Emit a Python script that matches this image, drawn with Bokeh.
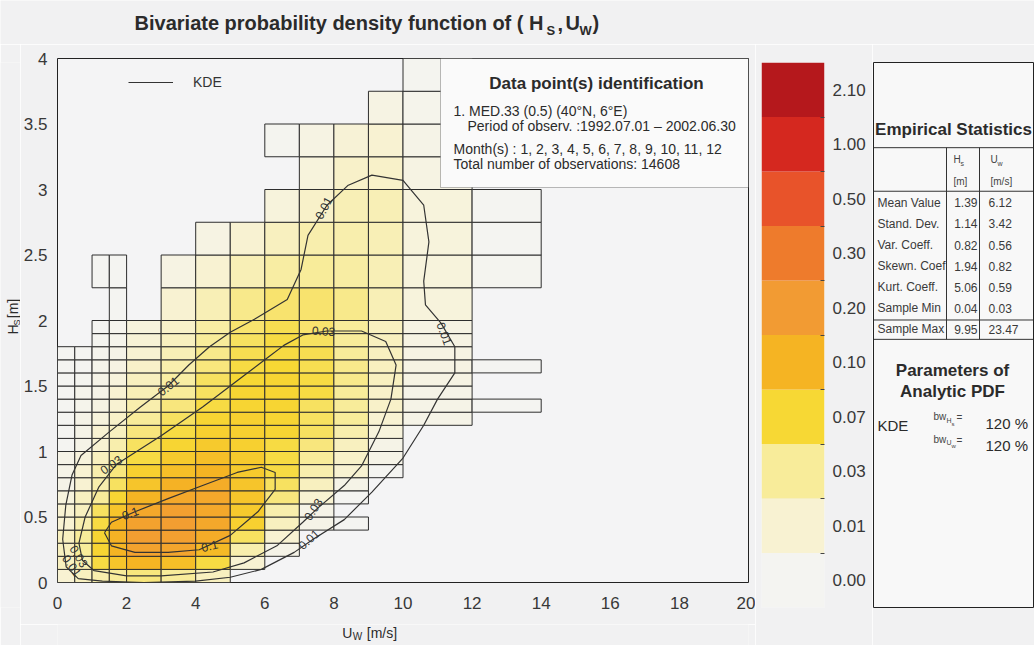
import numpy as np
from bokeh.plotting import figure
from bokeh.layouts import row, column
from bokeh.models import (Range1d, FixedTicker, Label, BoxAnnotation, Legend,
                          LegendItem, ColumnDataSource)
from bokeh.embed import file_html
from bokeh.resources import INLINE
from bokeh.core.properties import value

FONT = "Liberation Sans"
N = None

# ---------------- data ----------------
u_edges = [0, 0.5, 1, 1.5, 2, 3, 4, 5, 6, 7, 8, 9, 10, 12, 14]
h_edges = [0.0, 0.1, 0.2, 0.3, 0.4, 0.5, 0.6, 0.7, 0.8, 0.9, 1.0, 1.1, 1.2, 1.3,
           1.4, 1.5, 1.6, 1.7, 1.8, 1.9, 2.0, 2.25, 2.5, 2.75, 3.0, 3.25, 3.5,
           3.75, 4.0]
# empirical density per cell (row = H bin, column = U bin), None = empty bin
density = [
    [0.02, 0.03, 0.04, 0.05, 0.06, 0.05, 0.03, N, N, N, N, N, N, N],
    [0.03, 0.04, 0.08, 0.12, 0.15, 0.13, 0.08, 0.02, N, N, N, N, N, N],
    [0.03, 0.05, 0.09, 0.15, 0.22, 0.21, 0.14, 0.04, 0.01, N, N, N, N, N],
    [0.03, 0.05, 0.09, 0.16, 0.24, 0.23, 0.18, 0.07, 0.02, N, N, N, N, N],
    [0.02, 0.04, 0.08, 0.15, 0.22, 0.24, 0.20, 0.10, 0.03, 0.01, 0.005, N, N, N],
    [0.02, 0.03, 0.07, 0.12, 0.20, 0.23, 0.20, 0.11, 0.04, 0.01, N, N, N, N],
    [0.015, 0.03, 0.05, 0.09, 0.15, 0.20, 0.20, 0.12, 0.06, 0.02, 0.005, N, N, N],
    [0.01, 0.02, 0.04, 0.07, 0.12, 0.16, 0.18, 0.12, 0.07, 0.03, 0.01, N, N, N],
    [0.01, 0.02, 0.04, 0.06, 0.10, 0.13, 0.15, 0.11, 0.08, 0.04, 0.02, 0.005, N, N],
    [0.01, 0.015, 0.03, 0.05, 0.08, 0.11, 0.13, 0.11, 0.08, 0.05, 0.025, 0.01, N, N],
    [0.005, 0.01, 0.02, 0.04, 0.07, 0.09, 0.11, 0.10, 0.08, 0.06, 0.03, 0.01, N, N],
    [0.005, 0.01, 0.02, 0.03, 0.06, 0.08, 0.10, 0.10, 0.09, 0.07, 0.04, 0.015, N, N],
    [0.005, 0.01, 0.015, 0.025, 0.05, 0.07, 0.09, 0.10, 0.09, 0.07, 0.05, 0.02, 0.01, N],
    [0.005, 0.008, 0.012, 0.02, 0.04, 0.06, 0.08, 0.09, 0.09, 0.07, 0.05, 0.025, 0.01, 0.005],
    [0.005, 0.008, 0.01, 0.02, 0.035, 0.05, 0.07, 0.09, 0.09, 0.08, 0.05, 0.025, 0.01, N],
    [0.004, 0.006, 0.01, 0.015, 0.03, 0.045, 0.07, 0.085, 0.09, 0.08, 0.055, 0.03, 0.012, N],
    [0.004, 0.005, 0.008, 0.012, 0.025, 0.04, 0.06, 0.08, 0.085, 0.075, 0.055, 0.03, 0.012, 0.004],
    [0.003, 0.005, 0.007, 0.01, 0.02, 0.035, 0.055, 0.075, 0.08, 0.075, 0.05, 0.03, 0.012, N],
    [N, N, 0.006, 0.008, 0.018, 0.03, 0.05, 0.07, 0.08, 0.07, 0.05, 0.03, 0.012, N],
    [N, N, 0.005, 0.007, 0.015, 0.025, 0.045, 0.065, 0.075, 0.065, 0.05, 0.03, 0.012, N],
    [N, N, N, 0.005, N, 0.02, 0.035, 0.055, 0.065, 0.065, 0.055, 0.035, 0.015, N],
    [N, N, 0.004, 0.004, N, 0.012, 0.02, 0.035, 0.045, 0.05, 0.045, 0.035, 0.015, 0.006],
    [N, N, N, N, N, N, 0.012, 0.02, 0.03, 0.04, 0.04, 0.035, 0.015, 0.005],
    [N, N, N, N, N, N, N, N, 0.015, 0.025, 0.035, 0.035, 0.015, 0.005],
    [N, N, N, N, N, N, N, N, N, 0.015, 0.025, 0.025, 0.012, N],
    [N, N, N, N, N, N, N, N, 0.006, 0.012, 0.018, 0.02, 0.01, N],
    [N, N, N, N, N, N, N, N, N, N, N, 0.012, 0.008, N],
    [N, N, N, N, N, N, N, N, N, N, N, N, 0.006, N],
]

# KDE contour lines (U_w, H_s)
kde001_u = [0.6, 0.25, 0.15, 0.24, 0.42, 0.68, 1.5, 2.4, 3.2, 3.8, 4.4, 5.0, 5.7,
            6.65, 7.05, 7.25, 7.8, 8.4, 9.1, 10.0, 10.6, 10.75, 10.6, 10.65, 11.1,
            11.5, 11.5, 11.0, 10.6, 10.0, 9.1, 8.3, 7.4, 6.85, 5.9, 5.0, 4.0, 2.5,
            1.3, 0.6]
kde001_h = [0.03, 0.12, 0.33, 0.59, 0.82, 0.97, 1.15, 1.34, 1.5, 1.66, 1.8, 1.91,
            2.01, 2.16, 2.39, 2.65, 2.88, 3.03, 3.11, 3.07, 2.88, 2.6, 2.3, 2.12,
            1.98, 1.8, 1.6, 1.4, 1.2, 0.95, 0.69, 0.48, 0.33, 0.23, 0.1, 0.04,
            0.01, 0.0, 0.01, 0.03]
kde003_u = [1.06, 0.72, 0.62, 0.8, 1.2, 1.7, 3.0, 4.2, 5.4, 6.0, 6.55, 7.1, 7.8,
            8.8, 9.5, 9.8, 9.65, 9.3, 8.8, 8.3, 7.5, 7.1, 6.35, 5.4, 4.5, 3.0,
            2.0, 1.06]
kde003_h = [0.09, 0.17, 0.3, 0.5, 0.73, 0.9, 1.12, 1.34, 1.58, 1.7, 1.81, 1.89,
            1.92, 1.92, 1.84, 1.66, 1.4, 1.15, 0.89, 0.74, 0.56, 0.46, 0.28, 0.15,
            0.08, 0.05, 0.05, 0.09]
kde01_u = [1.36, 1.56, 2.24, 3.2, 4.1, 5.0, 5.8, 6.3, 6.3, 5.9, 5.2, 4.2, 3.2,
           2.24, 1.56, 1.36]
kde01_h = [0.38, 0.28, 0.23, 0.23, 0.25, 0.36, 0.54, 0.71, 0.84, 0.88, 0.84, 0.74,
           0.64, 0.54, 0.46, 0.38]

clabel_text = ["0.01", "0.03", "0.1", "0.1", "0.03", "0.01", "0.03", "0.01",
               "0.01", "0.03", "0.01"]
clabel_u = [3.2, 1.55, 2.1, 4.4, 7.4, 7.27, 7.7, 7.7, 11.2, 0.62, 0.42]
clabel_h = [1.5, 0.9, 0.53, 0.28, 0.56, 0.33, 1.92, 2.86, 1.9, 0.2, 0.13]
clabel_deg = [38, 35, 20, 14, 57, 42, -3, 62, -70, -58, -55]

x_ticks = [0, 2, 4, 6, 8, 10, 12, 14, 16, 18, 20]
y_ticks = [0, 0.5, 1, 1.5, 2, 2.5, 3, 3.5, 4]
y_tick_labels = ["0", "0.5", "1", "1.5", "2", "2.5", "3", "3.5", "4"]

cbar_levels = [0.00, 0.01, 0.03, 0.07, 0.10, 0.20, 0.30, 0.50, 1.00, 2.10]
cbar_labels = ["0.00", "0.01", "0.03", "0.07", "0.10", "0.20", "0.30", "0.50",
               "1.00", "2.10"]
cbar_colors = ["#F4F4F1", "#F8F2D2", "#F8EC9A", "#F7D834", "#F5B423", "#F29B33",
               "#EE7B2C", "#E8532A", "#D5281F", "#B5181C"]

title_parts = ["Bivariate probability density function of ( H", "S", ",", "U", "W", ")"]
info_title = "Data point(s) identification"
info_lines = ["1. MED.33 (0.5)  (40\u00b0N, 6\u00b0E)",
              "Period of observ. :1992.07.01 \u2013 2002.06.30",
              "Month(s) : 1, 2, 3, 4, 5, 6, 7, 8, 9, 10, 11, 12",
              "Total number of observations: 14608"]

stat_names = ["Mean Value", "Stand. Dev.", "Var. Coeff.", "Skewn. Coef",
              "Kurt. Coeff.", "Sample Min", "Sample Max"]
stat_hs = ["1.39", "1.14", "0.82", "1.94", "5.06", "0.04", "9.95"]
stat_uw = ["6.12", "3.42", "0.56", "0.82", "0.59", "0.03", "23.47"]
bw_values = ["120 %", "120 %"]

# ---------------- colour helper ----------------
anchors = [(cbar_levels[k] + cbar_levels[k + 1]) / 2 for k in range(9)] + [2.5]


def _rgb(h):
    return tuple(int(h[k:k + 2], 16) for k in (1, 3, 5))


def color_for(v):
    if v <= anchors[0]:
        return cbar_colors[0]
    for k in range(9):
        if v <= anchors[k + 1]:
            t = (v - anchors[k]) / (anchors[k + 1] - anchors[k])
            c0, c1 = _rgb(cbar_colors[k]), _rgb(cbar_colors[k + 1])
            return "#%02x%02x%02x" % tuple(int(round(a + (b - a) * t)) for a, b in zip(c0, c1))
    return cbar_colors[-1]


PAGE_BG = "#F1F1F2"
TXT = "#2b2b2b"


def pix_fig(w, h, bg=PAGE_BG):
    f = figure(width=w, height=h, x_range=Range1d(0, w), y_range=Range1d(h, 0),
               x_axis_type=None, y_axis_type=None, output_backend="svg",
               toolbar_location=None, min_border=0)
    f.background_fill_color = bg
    f.border_fill_color = bg
    f.outline_line_color = None
    f.grid.visible = False
    return f


def ftext(f, x, y, text, size, bold=False, align="left", angle=0.0, color=TXT):
    # y is the vertical centre of the text
    f.text(x=[x], y=[y], text=[text], angle=angle, text_font=value(FONT),
           text_font_size=value(size), text_font_style="bold" if bold else "normal",
           text_align=align, text_baseline="middle", text_color=color)


# page layout (no page margin): title strip y 0..44, row y 44..645
TOP = 44

# ---------------- title strip ----------------
ptitle = pix_fig(1034, TOP)
ftext(ptitle, 543, 22, title_parts[0], "20px", bold=True, align="right")
ftext(ptitle, 546, 30, title_parts[1], "13px", bold=True)
ftext(ptitle, 557, 23, title_parts[2], "20px", bold=True)
ftext(ptitle, 565, 22, title_parts[3], "20px", bold=True)
ftext(ptitle, 579, 30, title_parts[4], "13px", bold=True)
ftext(ptitle, 592, 22, title_parts[5], "20px", bold=True)

# ---------------- main figure (page x 20..755, y 44..624) ----------------
FL, FR, FT, FB = 57, 748, 58, 582


def ux(px):
    return (px - FL) / (FR - FL) * 20


def hy(py):
    return (FB - py) / (FB - FT) * 4


p = figure(width=735, height=624 - TOP, x_range=Range1d(0, 20), y_range=Range1d(0, 4),
           output_backend="svg", toolbar_location=None,
           min_border_left=37, min_border_right=7, min_border_top=FT - TOP,
           min_border_bottom=624 - FB)
p.background_fill_color = "#F4F4F5"
p.border_fill_color = PAGE_BG
p.outline_line_color = "#222222"
p.outline_line_width = 1
p.grid.visible = False

cl, cr, cb, ct, cf = [], [], [], [], []
for i, rv in enumerate(density):
    for j, v in enumerate(rv):
        if v is None:
            continue
        cl.append(u_edges[j]); cr.append(u_edges[j + 1])
        cb.append(h_edges[i]); ct.append(h_edges[i + 1])
        cf.append(color_for(v))
cells = ColumnDataSource(dict(left=cl, right=cr, bottom=cb, top=ct, fill=cf))
p.quad(left="left", right="right", bottom="bottom", top="top", source=cells,
       fill_color="fill", line_color="#2e2e2e", line_width=1)

kde_r = p.multi_line(xs=[kde001_u, kde003_u, kde01_u], ys=[kde001_h, kde003_h, kde01_h],
                     line_color="#333333", line_width=1.2)

p.text(x=clabel_u, y=clabel_h, text=clabel_text, angle=[np.deg2rad(a) for a in clabel_deg],
       text_font=value(FONT), text_font_size=value("12px"), text_color="#333333",
       text_align="center", text_baseline="middle")

for ax in (p.xaxis, p.yaxis):
    ax.axis_line_color = None
    ax.major_tick_line_color = None
    ax.minor_tick_line_color = None
    ax.major_tick_out = 0
    ax.major_tick_in = 0
    ax.minor_tick_out = 0
    ax.minor_tick_in = 0
    ax.major_label_text_font = FONT
    ax.major_label_text_font_size = "17px"
    ax.major_label_text_color = "#383838"
p.xaxis.ticker = FixedTicker(ticks=x_ticks)
p.yaxis.ticker = FixedTicker(ticks=y_ticks)
p.yaxis.major_label_overrides = {t: l for t, l in zip(y_ticks, y_tick_labels)}
p.xaxis.major_label_standoff = 14
p.yaxis.major_label_standoff = 10

legend = Legend(items=[LegendItem(label="KDE", renderers=[kde_r])], location=(71, 490),
                glyph_width=45, glyph_height=20, label_standoff=20, padding=0, margin=0,
                spacing=0, background_fill_alpha=0, border_line_color=None,
                label_text_font=FONT, label_text_font_size="14px",
                label_text_color="#333333")
p.add_layout(legend)

# info box
p.add_layout(BoxAnnotation(left=ux(440), right=20, bottom=hy(187), top=4,
                           fill_color="#FAFAFA", fill_alpha=1.0,
                           line_color="#222222", line_width=1))


def lab(x, y, text, size, bold=False, align="left"):
    p.add_layout(Label(x=x, y=y, text=text, text_font=FONT, text_font_size=size,
                       text_font_style="bold" if bold else "normal",
                       text_align=align, text_baseline="middle", text_color=TXT))


lab(ux(596), hy(83), info_title, "17px", bold=True, align="center")
lab(ux(453), hy(110), info_lines[0], "14px")
lab(ux(467), hy(125), info_lines[1], "14px")
lab(ux(453), hy(148), info_lines[2], "14px")
lab(ux(453), hy(163), info_lines[3], "14px")

# ---------------- x label strip (page x 20..755, y 624..645) ----------------
pxl = pix_fig(735, 21)
OX, OY = 20, 624
ftext(pxl, 323 - OX, 632 - OY, "U", "14px")
ftext(pxl, 334 - OX, 636 - OY, "W", "10px")
ftext(pxl, 349 - OX, 632 - OY, "[m/s]", "14px")

# ---------------- y label strip (page x 0..20, y 44..645) ----------------
pyl = pix_fig(20, 645 - TOP)
OX, OY = 0, TOP
ftext(pyl, 12 - OX, 344 - OY, "H", "14px", angle=np.pi / 2)
ftext(pyl, 16 - OX, 334 - OY, "S", "9px", angle=np.pi / 2)
ftext(pyl, 12 - OX, 326 - OY, "[m]", "14px", angle=np.pi / 2)

# ---------------- colour bar (page x 755..872) ----------------
pc = figure(width=117, height=645 - TOP, x_range=Range1d(0, 1), y_range=Range1d(0, 10),
            x_axis_type=None, y_axis_location="right", output_backend="svg",
            toolbar_location=None, min_border_left=6, min_border_right=48,
            min_border_top=62 - TOP, min_border_bottom=645 - 607)
pc.background_fill_color = PAGE_BG
pc.border_fill_color = PAGE_BG
pc.outline_line_color = None
pc.grid.visible = False
idx = list(range(len(cbar_levels)))
pc.quad(left=0, right=1, bottom=idx, top=[k + 1 for k in idx], fill_color=cbar_colors,
        line_color=None)
pc.yaxis.ticker = FixedTicker(ticks=[k + 0.5 for k in idx], minor_ticks=idx[1:])
pc.yaxis.major_label_overrides = {k + 0.5: cbar_labels[k] for k in idx}
pc.yaxis.axis_line_color = None
pc.yaxis.major_tick_line_color = None
pc.yaxis.major_tick_out = 0
pc.yaxis.major_tick_in = 0
pc.yaxis.minor_tick_line_color = "#444444"
pc.yaxis.minor_tick_in = 4
pc.yaxis.minor_tick_out = 0
pc.yaxis.major_label_standoff = 8
pc.yaxis.major_label_text_font = FONT
pc.yaxis.major_label_text_font_size = "17px"
pc.yaxis.major_label_text_color = "#383838"

# ---------------- statistics table (page x 872..1034) ----------------
TW, TH = 160, 563
pt = figure(width=162, height=645 - TOP, x_range=Range1d(0, TW), y_range=Range1d(TH, 0),
            x_axis_type=None, y_axis_type=None, output_backend="svg",
            toolbar_location=None, min_border_left=1, min_border_right=1,
            min_border_top=62 - TOP, min_border_bottom=645 - 625)
pt.background_fill_color = "#F8F8F8"
pt.border_fill_color = PAGE_BG
pt.outline_line_color = "#222222"
pt.grid.visible = False

pt.segment(x0=[0, 0, 0, 0, 73, 106], y0=[88, 133, 266, 286, 88, 88],
           x1=[TW, TW, TW, TW, 73, 106], y1=[88, 133, 266, 286, 286, 286],
           line_color="#333333", line_width=1)

G = "#444444"
ftext(pt, 80, 69, "Empirical Statistics", "17px", bold=True, align="center")
ftext(pt, 80, 100, "H", "10px", color=G); ftext(pt, 87, 104, "s", "7px", color=G)
ftext(pt, 80, 123, "[m]", "10px", color=G)
ftext(pt, 117, 100, "U", "10px", color=G); ftext(pt, 124, 104, "w", "7px", color=G)
ftext(pt, 117, 123, "[m/s]", "10px", color=G)
row_y = [145 + 21.8 * i for i in range(len(stat_names))]
pt.text(x=[4] * len(stat_names), y=row_y, text=stat_names, text_font=value(FONT),
        text_font_size=value("12px"), text_color="#3a3a3a", text_baseline="middle")
pt.text(x=[104] * len(stat_hs), y=row_y, text=stat_hs, text_font=value(FONT),
        text_font_size=value("12px"), text_color="#3a3a3a", text_align="right",
        text_baseline="middle")
pt.text(x=[115] * len(stat_uw), y=row_y, text=stat_uw, text_font=value(FONT),
        text_font_size=value("12px"), text_color="#3a3a3a", text_baseline="middle")

ftext(pt, 79, 318, "Parameters of", "17px", bold=True, align="center")
ftext(pt, 79, 340, "Analytic PDF", "17px", bold=True, align="center")
ftext(pt, 4, 375, "KDE", "15px")
ftext(pt, 60, 366, "bw", "10px", color=G); ftext(pt, 73, 370, "H", "7px", color=G)
ftext(pt, 78, 373, "s", "6px", color=G); ftext(pt, 83, 367, "=", "10px", color=G)
ftext(pt, 112, 373, bw_values[0], "15px")
ftext(pt, 60, 389, "bw", "10px", color=G); ftext(pt, 73, 393, "U", "7px", color=G)
ftext(pt, 78, 396, "w", "6px", color=G); ftext(pt, 83, 390, "=", "10px", color=G)
ftext(pt, 112, 396, bw_values[1], "15px")

layout = column(ptitle, row(pyl, column(p, pxl), pc, pt))
open("out.html", "w").write(file_html(layout, INLINE))
